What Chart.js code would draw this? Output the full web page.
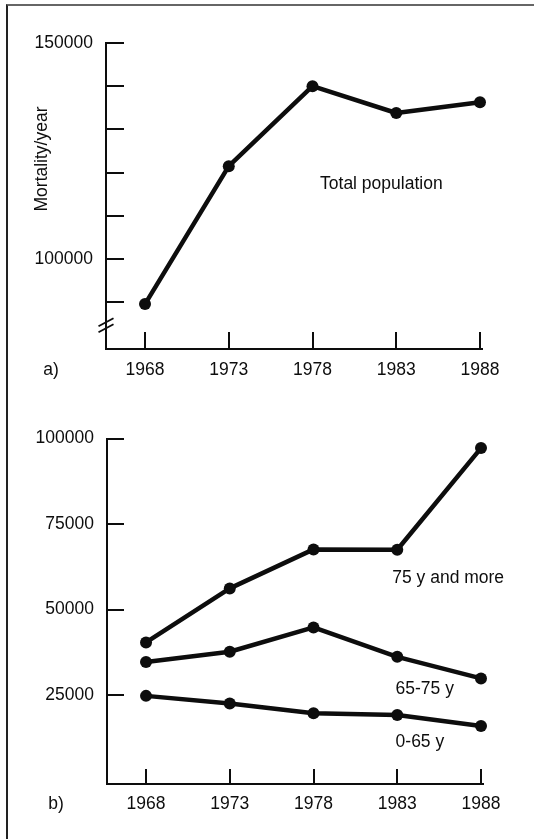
<!DOCTYPE html>
<html>
<head>
<meta charset="utf-8">
<title>Mortality per year, 1968–1988</title>
<script src="https://cdn.jsdelivr.net/npm/chart.js@4/dist/chart.umd.min.js"></script>
<style>
  html, body { margin: 0; padding: 0; background: #fff; }
  body { width: 534px; height: 839px; position: relative; overflow: hidden; }
  #frame { position: absolute; left: 6px; top: 4px; right: 0; bottom: 0;
           border-left: 2px solid #222; border-top: 2px solid #666; }
  .panel { position: absolute; left: 0; width: 534px; }
  #panelA { top: 0; height: 415px; }
  #panelB { top: 415px; height: 424px; }
  canvas { display: block; }
</style>
</head>
<body>
<div id="frame"></div>
<div class="panel" id="panelA"><canvas id="chartA" width="534" height="415"></canvas></div>
<div class="panel" id="panelB"><canvas id="chartB" width="534" height="424"></canvas></div>
<script>
// Survey years (x axis of both panels)
const years = [1968, 1973, 1978, 1983, 1988];

// a) total population, deaths per year
const totalPopulation = [89600, 121500, 140000, 133800, 136300];

// b) deaths per year by age group
const age75AndMore = [40400, 56200, 67600, 67500, 97200];
const age65to75    = [34700, 37700, 44800, 36200, 29900];
const age0to65     = [24800, 22600, 19700, 19200, 16000];

// y tick marks and the ones that carry a label
const ticksA = [90000, 100000, 110000, 120000, 130000, 140000, 150000];
const labelledA = [100000, 150000];
const ticksB = [25000, 50000, 75000, 100000];

const INK = '#0d0d0d';
const FONT = '"Liberation Sans", Arial, Helvetica, sans-serif';
const FONT_SIZE = 17.5;
Chart.defaults.font.family = FONT;
Chart.defaults.font.size = FONT_SIZE;
Chart.defaults.color = INK;

const toPoints = vals => years.map((yr, i) => ({ x: yr, y: vals[i] }));

function lineDataset(label, vals) {
  return {
    label,
    data: toPoints(vals),
    borderColor: INK,
    backgroundColor: INK,
    borderWidth: 4.5,
    borderJoinStyle: 'round',
    pointRadius: 6,
    pointHoverRadius: 6,
    pointBorderWidth: 0,
    pointBackgroundColor: INK,
    tension: 0,
    clip: false
  };
}

// Draws inward tick marks, the axis break, the axis title and the in-plot labels
const panelDecor = {
  id: 'panelDecor',
  afterDraw(chart, args, opts) {
    const { ctx, chartArea } = chart;
    const xs = chart.scales.x, ys = chart.scales.y;
    ctx.save();
    ctx.strokeStyle = INK;
    ctx.fillStyle = INK;
    ctx.lineWidth = 2;
    ctx.lineCap = 'butt';
    // y tick marks pointing into the plot
    ys.ticks.forEach(t => {
      const py = Math.round(ys.getPixelForValue(t.value));
      ctx.beginPath();
      ctx.moveTo(chartArea.left, py);
      ctx.lineTo(chartArea.left + opts.yTickLen, py);
      ctx.stroke();
    });
    // x tick marks pointing up
    xs.ticks.forEach(t => {
      const px = Math.round(xs.getPixelForValue(t.value));
      ctx.beginPath();
      ctx.moveTo(px, chartArea.bottom);
      ctx.lineTo(px, chartArea.bottom - opts.xTickLen);
      ctx.stroke();
    });
    // axis break
    if (opts.breakAt != null) {
      const by = ys.getPixelForValue(opts.breakAt);
      const bx = chartArea.left;
      ctx.lineWidth = 1.8;
      [-3, 3].forEach(off => {
        ctx.beginPath();
        ctx.moveTo(bx - 7.5, by + off + 4);
        ctx.lineTo(bx + 7.5, by + off - 4);
        ctx.stroke();
      });
    }
    // text
    ctx.font = FONT_SIZE + 'px ' + FONT;
    ctx.textBaseline = 'middle';
    ctx.textAlign = 'left';
    (opts.notes || []).forEach(n => {
      ctx.fillText(n.text, xs.getPixelForValue(n.x), ys.getPixelForValue(n.y));
    });
    ctx.textAlign = 'center';
    (opts.panelTags || []).forEach(n => {
      ctx.fillText(n.text, n.px, n.py);
    });
    if (opts.yTitle) {
      ctx.translate(opts.yTitle.px, opts.yTitle.py);
      ctx.rotate(-Math.PI / 2);
      ctx.fillText(opts.yTitle.text, 0, 0);
    }
    ctx.restore();
  }
};

function xScale(labelPadding, axisHeight) {
  return {
    type: 'linear',
    min: 1965.67,
    max: 1988.12,
    afterBuildTicks: s => { s.ticks = years.map(v => ({ value: v })); },
    afterFit: s => { s.height = axisHeight; },
    grid: { display: false, drawTicks: false, tickLength: 0 },
    border: { display: true, color: INK, width: 2 },
    ticks: { padding: labelPadding, maxRotation: 0, autoSkip: false,
             callback: v => String(v), color: INK, font: { size: FONT_SIZE } }
  };
}

function yScale(min, max, tickVals, shown, axisWidth) {
  return {
    type: 'linear',
    min, max,
    afterBuildTicks: s => { s.ticks = tickVals.map(v => ({ value: v })); },
    afterFit: s => { s.width = axisWidth; },
    grid: { display: false, drawTicks: false, tickLength: 0 },
    border: { display: true, color: INK, width: 2 },
    ticks: { padding: 13, autoSkip: false,
             callback: v => (shown.includes(v) ? String(v) : ''),
             color: INK, font: { size: FONT_SIZE } }
  };
}

const common = {
  responsive: false,
  maintainAspectRatio: false,
  animation: false,
  events: []
};

new Chart(document.getElementById('chartA'), {
  type: 'line',
  data: { datasets: [lineDataset('Total population', totalPopulation)] },
  options: {
    ...common,
    layout: { padding: { left: 0, right: 52, top: 43, bottom: 0 } },
    scales: {
      x: xScale(11, 66),
      y: yScale(79200, 150000, ticksA, labelledA, 106)
    },
    plugins: {
      legend: { display: false },
      tooltip: { enabled: false },
      panelDecor: {
        yTickLen: 18,
        xTickLen: 17,
        breakAt: 84700,
        notes: [{ text: 'Total population', x: 1978.45, y: 117400 }],
        panelTags: [{ text: 'a)', px: 51, py: 370 }],
        yTitle: { text: 'Mortality/year', px: 42, py: 159 }
      }
    }
  },
  plugins: [panelDecor]
});

new Chart(document.getElementById('chartB'), {
  type: 'line',
  data: {
    datasets: [
      lineDataset('75 y and more', age75AndMore),
      lineDataset('65-75 y', age65to75),
      lineDataset('0-65 y', age0to65)
    ]
  },
  options: {
    ...common,
    layout: { padding: { left: 0, right: 51, top: 19, bottom: 0 } },
    scales: {
      x: xScale(10, 55),
      y: yScale(-950, 100000, ticksB, ticksB, 107)
    },
    plugins: {
      legend: { display: false },
      tooltip: { enabled: false },
      panelDecor: {
        yTickLen: 17,
        xTickLen: 15,
        notes: [
          { text: '75 y and more', x: 1982.7, y: 59300 },
          { text: '65-75 y', x: 1982.9, y: 26800 },
          { text: '0-65 y', x: 1982.9, y: 11200 }
        ],
        panelTags: [{ text: 'b)', px: 56, py: 389 }]
      }
    }
  },
  plugins: [panelDecor]
});
</script>
</body>
</html>
